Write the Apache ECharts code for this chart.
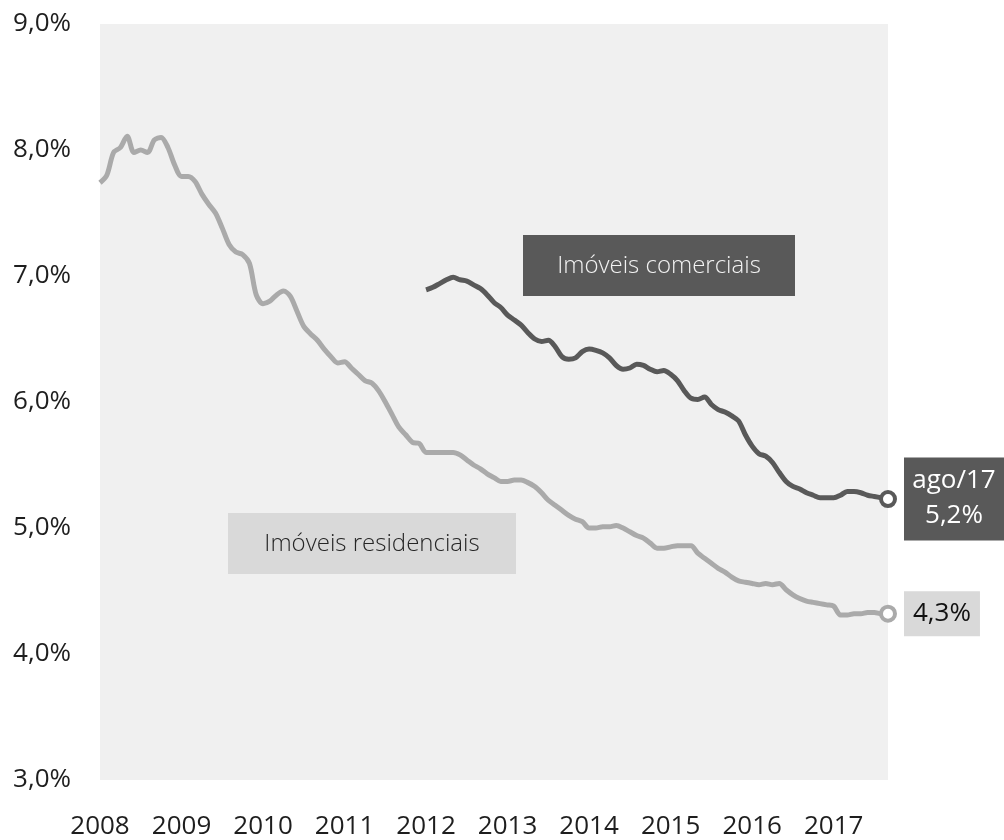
<!DOCTYPE html>
<html>
<head>
<meta charset="utf-8">
<script src="https://cdn.jsdelivr.net/npm/echarts@6/dist/echarts.min.js"></script>
<style>
  html, body { margin: 0; padding: 0; background: #fff; }
  #chart { width: 1004px; height: 840px; }
</style>
</head>
<body>
<div id="chart"></div>
<script>
// anos mostrados no eixo horizontal (um rótulo a cada 12 meses, a partir de jan/2008)
const years = ['2008', '2009', '2010', '2011', '2012', '2013', '2014', '2015', '2016', '2017'];

// taxa média - imóveis residenciais, mensal (índice 0 = início de 2008)
const residencial = [
    7.74, 7.80, 7.98, 8.02, 8.11, 7.98, 8.00, 7.98, 8.08, 8.10,
    8.02, 7.88, 7.79, 7.79, 7.75, 7.65, 7.57, 7.50, 7.38, 7.25,
    7.19, 7.17, 7.10, 6.85, 6.78, 6.80, 6.85, 6.88, 6.84, 6.72,
    6.60, 6.54, 6.49, 6.42, 6.36, 6.31, 6.32, 6.27, 6.22, 6.17,
    6.15, 6.09, 6.00, 5.90, 5.80, 5.74, 5.68, 5.67, 5.60, 5.60,
    5.60, 5.60, 5.60, 5.58, 5.54, 5.50, 5.47, 5.43, 5.40, 5.37,
    5.37, 5.38, 5.38, 5.36, 5.33, 5.28, 5.22, 5.18, 5.14, 5.10,
    5.07, 5.05, 5.00, 5.00, 5.01, 5.01, 5.02, 5.00, 4.97, 4.94,
    4.92, 4.88, 4.84, 4.84, 4.85, 4.86, 4.86, 4.86, 4.80, 4.76,
    4.72, 4.68, 4.65, 4.61, 4.58, 4.57, 4.56, 4.55, 4.56, 4.55,
    4.56, 4.51, 4.47, 4.44, 4.42, 4.41, 4.40, 4.39, 4.38, 4.31,
    4.31, 4.32, 4.32, 4.33, 4.33, 4.32, 4.32
];

// taxa média - imóveis comerciais, mensal, começa no índice 48 (2012)
const comercialInicio = 48;
const comercial = [
    6.89, 6.91, 6.94, 6.97, 6.99, 6.97, 6.96, 6.93, 6.90, 6.85,
    6.79, 6.75, 6.69, 6.65, 6.61, 6.55, 6.50, 6.48, 6.49, 6.44,
    6.36, 6.34, 6.35, 6.40, 6.42, 6.41, 6.39, 6.35, 6.29, 6.26,
    6.27, 6.30, 6.29, 6.26, 6.24, 6.25, 6.22, 6.17, 6.09, 6.03,
    6.02, 6.04, 5.98, 5.94, 5.92, 5.89, 5.85, 5.74, 5.65, 5.59,
    5.57, 5.52, 5.44, 5.37, 5.33, 5.31, 5.28, 5.26, 5.24, 5.24,
    5.24, 5.26, 5.29, 5.29, 5.28, 5.26, 5.25, 5.24, 5.23
];

const ultimoMes = 'ago/17';

const fmtPct = (v) => v.toFixed(1).replace('.', ',') + '%';

const resData = residencial.map((v, i) => [i, v]);
const comData = comercial.map((v, i) => [comercialInicio + i, v]);
const lastIdx = residencial.length - 1;

const chart = echarts.init(document.getElementById('chart'));

const fontFamily = '"Open Sans", "Noto Sans", sans-serif';

// círculo vazado no último ponto de cada série
function endPoint(data, color) {
    const last = data[data.length - 1];
    return {
        silent: true,
        symbol: 'circle',
        symbolSize: 14,
        label: { show: false },
        itemStyle: { color: '#fff', borderColor: color, borderWidth: 4 },
        data: [{ coord: last }]
    };
}

const option = {
    animation: false,
    backgroundColor: '#fff',
    grid: {
        left: 100,
        right: 116,
        top: 24,
        bottom: 58,
        show: true,
        backgroundColor: '#f0f0f0',
        borderWidth: 0
    },
    xAxis: {
        type: 'value',
        min: 0,
        max: lastIdx,
        interval: 12,
        axisLine: { show: false },
        axisTick: { show: false },
        splitLine: { show: false },
        axisLabel: {
            margin: 34,
            fontSize: 26,
            fontFamily: fontFamily,
            color: '#1e1e1e',
            showMaxLabel: false,
            formatter: (v) => years[Math.round(v / 12)] || ''
        }
    },
    yAxis: {
        type: 'value',
        min: 3,
        max: 9,
        interval: 1,
        axisLine: { show: false },
        axisTick: { show: false },
        splitLine: { show: false },
        axisLabel: {
            margin: 29,
            fontSize: 26,
            fontFamily: fontFamily,
            color: '#1e1e1e',
            formatter: fmtPct
        }
    },
    series: [
        {
            name: 'Imóveis residenciais',
            type: 'line',
            data: resData,
            smooth: 0.3,
            showSymbol: false,
            lineStyle: { color: '#aaaaaa', width: 5 },
            itemStyle: { color: '#aaaaaa' },
            markPoint: endPoint(resData, '#aaaaaa'),
            endLabel: {
                show: true,
                distance: 16,
                formatter: (p) => fmtPct(p.value[1]),
                fontSize: 26,
                fontFamily: fontFamily,
                color: '#111',
                backgroundColor: '#d9d9d9',
                padding: [7, 9, 8, 9],
                lineHeight: 30
            },
            z: 2
        },
        {
            name: 'Imóveis comerciais',
            type: 'line',
            data: comData,
            smooth: 0.3,
            showSymbol: false,
            lineStyle: { color: '#595959', width: 5 },
            itemStyle: { color: '#595959' },
            markPoint: endPoint(comData, '#595959'),
            endLabel: {
                show: true,
                distance: 16,
                formatter: (p) => '{t|' + ultimoMes + '}\n{t|' + fmtPct(p.value[1]) + '}',
                backgroundColor: '#595959',
                padding: [6, 8, 7, 8],
                rich: {
                    t: {
                        fontSize: 26,
                        fontFamily: fontFamily,
                        color: '#ffffff',
                        width: 84,
                        align: 'center',
                        lineHeight: 35
                    }
                }
            },
            z: 3
        }
    ],
    graphic: [
        {
            type: 'group',
            left: 523,
            top: 235,
            children: [
                { type: 'rect', shape: { x: 0, y: 0, width: 272, height: 61 }, style: { fill: '#595959' } },
                {
                    type: 'text', x: 136, y: 31,
                    style: {
                        text: 'Imóveis comerciais', fill: '#f2f2f2', fontSize: 24, fontWeight: 300,
                        fontFamily: fontFamily, align: 'center', verticalAlign: 'middle'
                    }
                }
            ]
        },
        {
            type: 'group',
            left: 228,
            top: 513,
            children: [
                { type: 'rect', shape: { x: 0, y: 0, width: 288, height: 61 }, style: { fill: '#d9d9d9' } },
                {
                    type: 'text', x: 144, y: 31,
                    style: {
                        text: 'Imóveis residenciais', fill: '#262626', fontSize: 24, fontWeight: 300,
                        fontFamily: fontFamily, align: 'center', verticalAlign: 'middle'
                    }
                }
            ]
        }
    ]
};

chart.setOption(option);
</script>
</body>
</html>
